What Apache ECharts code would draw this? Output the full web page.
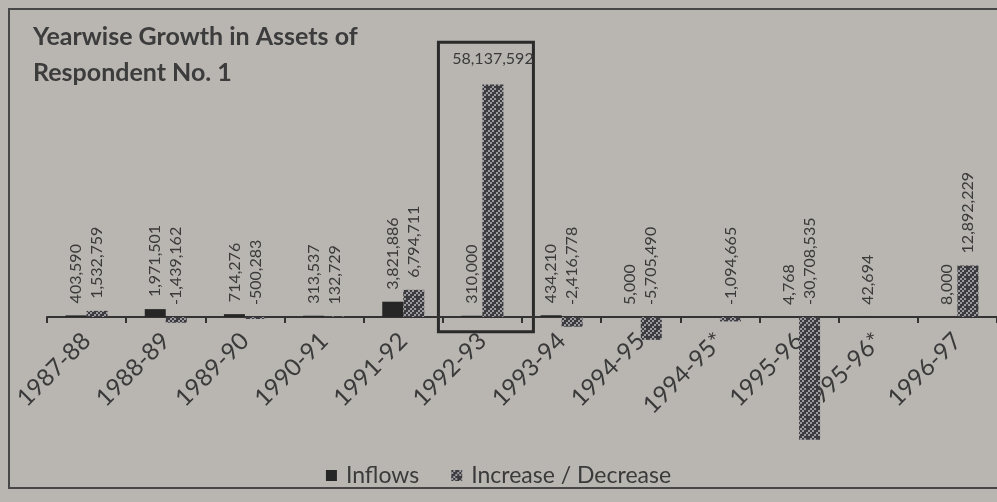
<!DOCTYPE html>
<html>
<head>
<meta charset="utf-8">
<script src="https://cdn.jsdelivr.net/npm/echarts@6/dist/echarts.min.js"></script>
<style>
html, body { margin: 0; padding: 0; background: #b9b6b2; }
#chart { width: 997px; height: 502px; }
</style>
</head>
<body>
<div id="chart"></div>
<script>
const years = ['1987-88', '1988-89', '1989-90', '1990-91', '1991-92', '1992-93',
  '1993-94', '1994-95', '1994-95*', '1995-96', '1995-96*', '1996-97']
const inflows = [403590, 1971501, 714276, 313537, 3821886, 310000,
  434210, 5000, null, 4768, 42694, 8000]
const increase = [1532759, -1439162, -500283, 132729, 6794711, 58137592,
  -2416778, -5705490, -1094665, -30708535, null, 12892229]
const highlightYear = '1992-93'

const FONT = 'Lato, "Open Sans", sans-serif'
const TEXT = '#3a3a3a'

// speckled fill for the increase / decrease bars
const makePattern = () => {
  const cells = [
    '10110',
    '01101',
    '11010',
    '10111',
    '01011'
  ]
  const c = document.createElement('canvas')
  c.width = 10
  c.height = 10
  const ctx = c.getContext('2d')
  cells.forEach((row, j) => {
    row.split('').forEach((v, i) => {
      ctx.fillStyle = v === '1' ? '#3c3c3e' : '#9a9aa0'
      ctx.fillRect(i * 2, j * 2, 2, 2)
    })
  })
  return c
}

const fmt = v => v.toLocaleString('en-US')

const rotLabel = {
  show: true,
  position: 'top',
  rotate: 90,
  align: 'left',
  verticalAlign: 'middle',
  distance: 12,
  fontFamily: FONT,
  fontSize: 16,
  color: TEXT,
  formatter: p => fmt(p.value)
}

const increaseData = increase.map((v, i) => {
  if (years[i] === highlightYear) {
    return {
      value: v,
      label: { rotate: 0, align: 'center', verticalAlign: 'bottom', distance: 18 }
    }
  }
  return v
})

const GRID_BOTTOM = 45
const H = 502

const genOptions = () => {
  return {
    backgroundColor: '#b9b6b2',
    title: {
      text: 'Yearwise Growth in Assets of\nRespondent No. 1',
      left: 28,
      top: 14,
      textStyle: {
        fontFamily: FONT,
        fontWeight: 'bold',
        fontSize: 25,
        lineHeight: 36,
        color: '#3c3c3c'
      }
    },
    legend: {
      bottom: 10,
      left: 'center',
      icon: 'rect',
      itemWidth: 11,
      itemHeight: 11,
      itemGap: 32,
      textStyle: { fontFamily: FONT, fontSize: 23, color: TEXT, padding: [0, 0, 0, 4] },
      data: ['Inflows', 'Increase / Decrease']
    },
    grid: {
      left: 47,
      right: 0,
      top: 77,
      bottom: GRID_BOTTOM,
      outerBoundsMode: 'none',
      containLabel: false
    },
    xAxis: {
      type: 'category',
      data: years,
      axisLine: { onZero: false, lineStyle: { color: '#333', width: 2 } },
      axisTick: { show: true, length: 6, lineStyle: { color: '#333', width: 2 } },
      axisLabel: {
        interval: 0,
        rotate: 45,
        margin: 20,
        fontFamily: FONT,
        fontSize: 24,
        color: TEXT
      }
    },
    yAxis: {
      type: 'value',
      min: -35000000,
      max: 60000000,
      show: false,
      splitLine: { show: false }
    },
    series: [{
      name: 'Inflows',
      type: 'bar',
      barWidth: 21,
      barGap: '0%',
      itemStyle: { color: '#262626' },
      label: rotLabel,
      data: inflows
    }, {
      name: 'Increase / Decrease',
      type: 'bar',
      barWidth: 21,
      itemStyle: { color: { image: makePattern(), repeat: 'repeat' } },
      label: rotLabel,
      data: increaseData
    }]
  }
}

const chart = echarts.init(document.getElementById('chart'))
chart.setOption(genOptions())

// move the whole category axis (line, ticks, labels) up to the zero line
const zeroY = chart.convertToPixel({ yAxisIndex: 0 }, 0)
const topLeft = chart.convertToPixel({ gridIndex: 0 }, [highlightYear, 68700000])
const bottom = chart.convertToPixel({ gridIndex: 0 }, [highlightYear, -3700000])
chart.setOption({
  xAxis: { offset: zeroY - (H - GRID_BOTTOM) },
  graphic: [{
    type: 'rect',
    shape: { x: 9, y: 9, width: 1000, height: 479 },
    style: { fill: null, stroke: '#474747', lineWidth: 2 },
    silent: true
  }, {
    type: 'rect',
    shape: {
      x: topLeft[0] - 44,
      y: topLeft[1],
      width: 95,
      height: bottom[1] - topLeft[1]
    },
    style: { fill: null, stroke: '#2a2a2a', lineWidth: 3 },
    silent: true
  }]
})
</script>
</body>
</html>
